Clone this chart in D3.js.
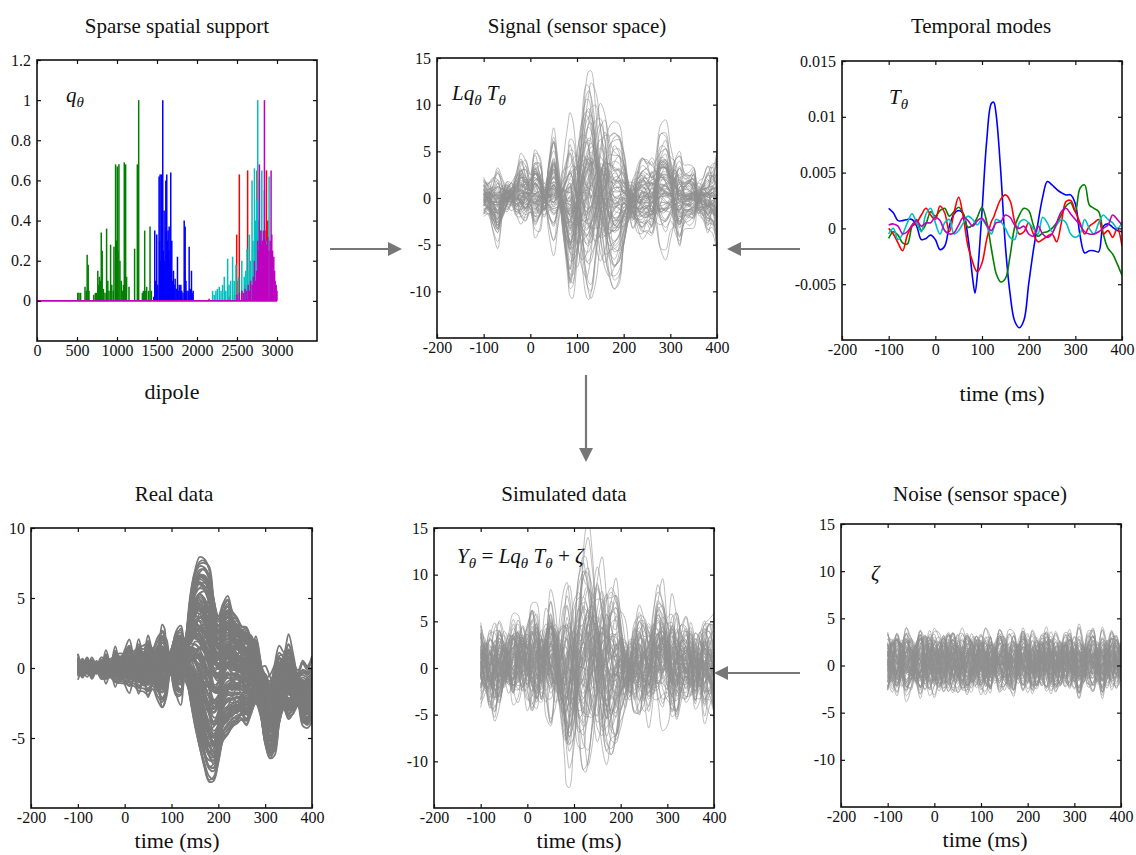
<!DOCTYPE html>
<html>
<head>
<meta charset="utf-8">
<script src="https://cdn.jsdelivr.net/npm/d3@7"></script>
<style>
  body { margin: 0; background: #fff; }
  svg text { font-family: "Liberation Serif", "Times New Roman", serif; fill: #111; }
</style>
</head>
<body>
<svg id="figure" width="1136" height="855"></svg>
<script>
// ---- data ----

// sample times (ms) shared by every time series
const timeGrid = [-100, -90, -80, -70, -60, -50, -40, -30, -20, -10, 0, 10, 20, 30, 40, 50, 60, 70, 80,
  85, 90, 100, 110, 120, 125, 130,
  140, 150, 160, 170, 180, 190, 200, 210, 220, 230, 240, 250, 260, 270, 280, 290, 300, 310, 320, 330, 340, 350, 360, 370, 380, 390, 400];

// temporal modes T_theta
const blueMode = [0.0018, 0.0014, 0.0007, 0.0007, 0.0008, 0.0008, 0.0002, -0.001, -0.0009, -0.0006, -0.001, -0.0019, -0.0016, 0.0002, 0.0013, 0.0016, 0.0013, -0.0008, -0.0045,
  -0.0058, -0.0042, 0.0015, 0.0078, 0.0112, 0.0113, 0.0103,
  0.0052, -0.0015, -0.0058, -0.0083, -0.0089, -0.0082, -0.005, -0.002, 0.0005, 0.0028, 0.0042, 0.0039, 0.0035, 0.0032, 0.003, 0.003, 0.0022, -0.0006, -0.0022, -0.002, -0.002, -0.0021, 0.0002, 0.0004, 0.0001, -0.0002, -0.0003];
const greenMode = [-0.0009, -0.0003, -0.0006, -0.0013, -0.0014, 0.0002, 0.0008, -0.0002, 0.0004, 0.0015, 0.0011, 0.0016, 0.0018, 0.0011, 0.0015, 0.0019, 0.0013, 0.0001, 0.0003,
  0.0006, 0.001, 0.0019, 0.0006, -0.0018, -0.003, -0.004,
  -0.0048, -0.0045, -0.0025, 0.0001, 0.0012, 0.0018, 0.0016, 0.0003, -0.0007, -0.0004, -0.0003, 0.0, 0.0005, 0.0012, 0.002, 0.0023, 0.0015, 0.0036, 0.0039, 0.0021, 0.0018, 0.0015, -0.0005, -0.0018, -0.0023, -0.0032, -0.0042];
const redMode = [0.0, -0.0005, -0.0013, -0.002, -0.0006, 0.0002, 0.0005, 0.0012, 0.0018, 0.0012, 0.0008, 0.002, 0.0014, -0.0003, 0.0014, 0.0028, 0.001, -0.0016, -0.003,
  -0.0036, -0.0039, -0.0031, -0.001, 0.0006, 0.001, 0.0016,
  0.0026, 0.003, 0.0025, 0.0006, -0.0005, -0.0003, 0.0005, -0.0005, -0.0012, -0.001, -0.0007, -0.0005, -0.0012, 0.0005, 0.0024, 0.0025, 0.0015, 0.0005, -0.0005, 0.0002, 0.0005, 0.0008, -0.0005, -0.0002, -0.0008, 0.0, -0.0016];
const cyanMode = [-0.0005, 0.0, -0.001, -0.0005, 0.0005, 0.0013, 0.0005, -0.0003, 0.0013, 0.0018, 0.0005, -0.0005, 0.0005, 0.0008, -0.0005, -0.0002, 0.0005, 0.0011, 0.0008,
  0.0005, 0.0003, 0.0008, 0.0002, -0.0005, 0.0, 0.0008,
  0.0006, 0.0, -0.0008, -0.001, 0.0005, 0.0008, 0.0005, 0.0, -0.0005, 0.001, 0.0005, -0.0003, 0.0003, 0.0008, 0.0005, -0.0005, -0.0008, -0.0005, 0.0008, 0.0, -0.0005, 0.0005, 0.0012, 0.0008, 0.0005, 0.0, 0.0005];
const magentaMode = [0.0003, 0.0004, 0.0002, -0.0005, -0.0003, 0.0003, 0.0007, 0.0002, 0.0005, 0.0005, 0.001, 0.0007, -0.0002, -0.0005, -0.0004, 0.0003, 0.001, 0.0007, 0.0002,
  0.0004, 0.0007, 0.0009, 0.0003, -0.0002, 0.0001, 0.0005,
  0.0006, 0.0012, 0.001, 0.0003, 0.0, 0.0002, -0.0005, -0.0007, 0.0002, -0.0005, -0.0008, -0.0005, 0.0005, 0.0015, 0.0018, 0.0013, 0.0008, 0.0003, -0.0003, -0.0005, -0.0005, -0.0003, 0.0, 0.0003, 0.0012, 0.0008, 0.0003];
const modes = [blueMode, greenMode, redMode, cyanMode, magentaMode];
const modeColors = ['#0000ff', '#007f00', '#ff0000', '#00bfbf', '#bf00bf'];

// sparse spatial support q_theta: [dipole, value]
const qGreen = [[510, 0.04], [525, 0.04], [545, 0.04], [600, 0.07], [615, 0.05], [627, 0.23], [640, 0.18], [650, 0.05], [710, 0.03], [730, 0.04], [745, 0.04], [760, 0.15], [770, 0.08], [780, 0.12], [795, 0.1], [803, 0.34], [815, 0.25], [830, 0.06], [850, 0.04], [870, 0.36], [885, 0.1], [900, 0.05], [920, 0.28], [935, 0.08], [953, 0.05], [962, 0.27], [982, 0.68], [992, 0.3], [1003, 0.67], [1012, 0.25], [1024, 0.68], [1037, 0.2], [1053, 0.1], [1065, 0.05], [1080, 0.08], [1091, 0.69], [1100, 0.3], [1108, 0.68], [1120, 0.12], [1150, 0.07], [1220, 0.26], [1254, 0.68], [1271, 1.0], [1317, 0.04], [1330, 0.05], [1346, 0.35], [1360, 0.05], [1371, 0.07], [1395, 0.05], [1413, 0.37], [1430, 0.05]];
const qBlue = [[1460, 0.02], [1472, 0.35], [1485, 0.1], [1497, 0.33], [1510, 0.08], [1526, 0.62], [1532, 0.3], [1539, 0.63], [1547, 0.2], [1556, 0.63], [1565, 0.2], [1572, 1.0], [1580, 0.25], [1589, 0.45], [1597, 0.2], [1610, 0.6], [1617, 0.35], [1622, 0.63], [1630, 0.3], [1639, 0.35], [1645, 0.25], [1652, 0.37], [1660, 0.2], [1672, 0.64], [1680, 0.15], [1685, 0.3], [1695, 0.1], [1706, 0.15], [1715, 0.08], [1727, 0.11], [1740, 0.06], [1756, 0.22], [1765, 0.05], [1777, 0.08], [1790, 0.07], [1798, 0.08], [1810, 0.05], [1825, 0.04], [1840, 0.4], [1846, 0.15], [1852, 0.37], [1862, 0.1], [1873, 0.05], [1890, 0.05], [1902, 0.27], [1915, 0.06], [1931, 0.15], [1940, 0.04], [1952, 0.05]];
const qRed = [[2150, 0.01], [2400, 0.02], [2470, 0.03], [2496, 0.33], [2515, 0.1], [2529, 0.63], [2560, 0.05], [2600, 0.08], [2633, 0.65], [2660, 0.1], [2700, 0.12], [2738, 0.38], [2750, 0.65], [2790, 0.3], [2820, 0.2], [2850, 0.35], [2868, 0.65], [2885, 0.4]];
const qCyan = [[2195, 0.05], [2215, 0.03], [2236, 0.05], [2255, 0.06], [2278, 0.07], [2300, 0.05], [2320, 0.08], [2341, 0.12], [2360, 0.05], [2383, 0.21], [2400, 0.08], [2420, 0.1], [2445, 0.22], [2465, 0.1], [2487, 0.18], [2520, 0.12], [2560, 0.2], [2590, 0.12], [2610, 0.15], [2625, 0.26], [2633, 0.15], [2654, 0.33], [2670, 0.2], [2688, 0.6], [2700, 0.3], [2718, 0.66], [2730, 0.4], [2745, 0.5], [2759, 1.0], [2770, 0.4], [2780, 0.6], [2795, 0.35], [2810, 0.65], [2825, 0.3], [2843, 0.55], [2860, 0.25], [2876, 0.3], [2901, 0.62], [2918, 0.2]];
const qMagenta = [[2500, 0.03], [2530, 0.04], [2560, 0.05], [2580, 0.04], [2600, 0.06], [2620, 0.05], [2640, 0.08], [2655, 0.05], [2670, 0.1], [2690, 0.08], [2705, 0.12], [2717, 0.2], [2730, 0.1], [2745, 0.15], [2760, 0.3], [2770, 0.25], [2780, 0.68], [2790, 0.3], [2800, 0.35], [2810, 0.28], [2820, 0.3], [2830, 0.35], [2843, 1.0], [2855, 0.3], [2870, 0.28], [2885, 0.32], [2900, 0.25], [2915, 0.3], [2926, 0.65], [2935, 0.33], [2945, 0.25], [2960, 0.22], [2970, 0.15], [2977, 0.1], [2990, 0.08], [3000, 0.05]];
const qSeries = [
  { spikes: qGreen, color: '#007f00' },
  { spikes: qBlue, color: '#0000ff' },
  { spikes: qRed, color: '#ff0000' },
  { spikes: qCyan, color: '#00bfbf' },
  { spikes: qMagenta, color: '#bf00bf' },
];
const dipoleRange = [0, 3000];

// sensor gains L q_theta for each mode [blue, green, red, cyan, magenta] (x1000)
const sensorGains = [
  [1.10, 0.3, 0.4, -0.2, 0.1], [1.00, -0.5, 0.8, 0.3, -0.4], [0.92, 0.2, -0.6, 0.5, 0.2], [0.85, 0.8, 1.2, -0.4, 0.6],
  [0.78, -0.2, 0.2, 0.1, -0.3], [0.70, 0.5, -1.0, -0.6, 0.4], [0.62, -0.8, 1.6, 0.2, 0.1], [0.55, 0.1, 0.5, 0.7, -0.5],
  [0.48, 0.6, -0.3, -0.2, 0.8], [0.42, -0.4, 2.2, 0.4, -0.2], [0.36, 0.9, 0.9, -0.8, 0.3], [0.30, -0.6, -1.4, 0.6, 0.5],
  [0.25, 0.3, 1.8, -0.3, -0.6], [0.20, -0.1, 0.6, 0.9, 0.2], [0.15, 0.7, -0.8, 0.2, -0.8], [0.10, -0.9, 1.3, -0.5, 0.6],
  [0.06, 0.4, 2.4, 0.3, 0.0], [0.02, -0.3, -0.5, -0.9, 0.4], [-0.03, 1.1, 0.8, 0.5, -0.3], [-0.08, -0.5, 1.5, 0.1, 0.9],
  [-0.12, 0.2, -1.1, 0.7, -0.1], [-0.18, -1.0, 0.3, -0.4, 0.5], [-0.22, 0.6, 2.0, 0.2, -0.7], [-0.28, -0.2, -0.2, -0.6, 0.3],
  [-0.33, 0.8, 1.0, 0.8, 0.1], [-0.38, -0.7, -0.9, 0.0, -0.4], [-0.44, 0.1, 1.4, -0.7, 0.7], [-0.50, 0.5, 0.1, 0.4, -0.2],
  [-0.56, -0.4, -1.6, 0.6, 0.2], [-0.62, 0.9, 0.7, -0.2, -0.5], [-0.68, -0.6, 1.1, 0.3, 0.4], [-0.75, 0.3, -0.4, -0.5, 0.0],
  [-0.82, -0.2, 0.9, 0.6, -0.3], [-0.88, 0.4, 0.2, -0.1, 0.5], [0.95, 0.0, -0.2, 0.0, -0.1], [0.88, -0.3, 0.6, -0.6, 0.3],
  [0.66, 0.7, 0.0, 0.3, -0.2], [0.52, -0.9, -0.7, -0.1, 0.6], [0.33, 0.2, 1.1, 1.0, -0.4], [0.18, -0.5, -0.2, -0.3, 1.0],
  [-0.15, 0.3, 0.4, -1.0, -0.6], [-0.40, -0.8, 1.9, 0.5, 0.2], [-0.58, 1.0, -0.6, -0.3, 0.8], [0.74, 0.4, 1.5, 0.6, 0.0],
  [0.08, 0.0, 0.2, 0.2, 0.1], [-0.05, -0.2, 0.0, -0.2, -0.1], [0.40, 0.1, -0.1, 0.4, -0.2], [-0.25, -0.1, 0.5, 0.1, 0.3],
  [0.12, 0.2, 0.3, 0.1, -0.2], [-0.10, -0.3, 0.6, -0.2, 0.3], [0.22, 0.4, -0.4, 0.3, 0.1], [-0.20, 0.1, 0.9, 0.4, -0.3],
  [0.05, -0.5, 0.2, -0.4, 0.4], [0.28, 0.3, 0.7, 0.0, 0.2], [-0.30, -0.2, -0.3, 0.2, -0.2], [0.16, -0.1, 1.0, -0.1, 0.0],
  [-0.06, 0.6, -0.6, -0.3, 0.5], [0.35, -0.4, 0.3, 0.5, -0.4], [-0.35, 0.4, 0.5, -0.5, 0.1], [0.00, 0.2, 1.2, 0.2, 0.3],
  [0.24, -0.6, -0.2, -0.2, -0.3], [-0.14, -0.4, 0.8, 0.6, 0.0], [0.45, 0.5, 0.1, -0.1, 0.4], [-0.45, 0.0, 0.4, 0.3, -0.5],
  [0.10, 0.7, 0.5, -0.6, -0.1], [-0.24, -0.7, -0.4, 0.0, 0.6], [0.30, 0.0, 1.4, 0.3, -0.2], [-0.02, 0.3, 0.0, 0.5, 0.2],
  [0.58, -0.2, 0.4, -0.3, 0.1], [-0.52, 0.2, 0.7, 0.1, -0.1], [0.14, -0.3, -0.9, 0.4, 0.3], [-0.32, 0.5, 1.0, -0.2, 0.4],
  [0.04, 0.1, 0.3, -0.1, -0.4], [0.20, -0.2, 0.5, 0.2, 0.0], [-0.10, 0.0, -0.1, 0.3, 0.2], [0.38, 0.3, 0.9, -0.4, -0.2],
  [-0.42, -0.3, 0.2, 0.0, 0.1], [0.26, 0.6, -0.5, 0.1, 0.3], [-0.18, 0.2, 1.1, -0.3, -0.3], [0.50, -0.1, 0.2, 0.1, 0.2],
];
const gainScale = 1000;

// sensor noise zeta: four noise components and per-sensor weights [a, b, c, d, offset]
const noiseA = [0.8, -0.2, -0.9, 0.1, 0.9, 0.3, -0.6, -1.0, 0.2, 0.9, 0.4, -0.5, -0.9, 0.0, 0.8, 0.6, -0.3, -1.0, -0.4, 0.1, 0.5, 0.9, 0.1, -0.8, -0.5, -0.2, 0.7, 0.8, -0.3, -0.9, 0.0, 0.9, 0.5, -0.6, -0.8, 0.3, 1.0, 0.2, -0.7, -0.6, 0.4, 0.9, 0.0, -0.9, -0.3, 0.6, 0.8, -0.2, -1.0, 0.1, 0.8, 0.4, -0.5];
const noiseB = [-0.3, 0.6, 0.9, 0.2, -0.7, -0.8, 0.1, 0.9, 0.6, -0.4, -1.0, -0.3, 0.7, 0.8, -0.1, -0.9, -0.5, 0.4, 1.0, 0.7, 0.3, -0.6, -0.9, 0.0, 0.4, 0.7, 0.5, -0.4, -0.9, -0.2, 0.8, 0.6, -0.3, -0.8, 0.1, 0.9, 0.3, -0.7, -0.7, 0.2, 0.9, 0.4, -0.5, -0.9, 0.0, 0.8, 0.5, -0.4, -0.8, 0.2, 1.0, 0.3, -0.6];
const noiseC = [0.5, 0.9, 0.3, -0.5, -0.9, -0.2, 0.6, 0.4, -0.6, -0.8, 0.2, 0.9, 0.5, -0.6, -0.9, -0.1, 0.7, 0.9, 0.2, -0.3, -0.7, -0.5, 0.5, 0.9, 0.6, 0.2, -0.7, -0.6, 0.3, 0.9, 0.4, -0.5, -0.9, -0.1, 0.7, 0.6, -0.4, -0.9, 0.0, 0.8, 0.5, -0.5, -0.8, 0.2, 0.9, 0.3, -0.6, -0.7, 0.3, 0.9, 0.1, -0.7, -0.4];
const noiseD = [-0.9, -0.4, 0.5, 0.8, 0.0, -0.7, -0.3, 0.6, 0.9, 0.1, -0.8, -0.6, 0.3, 0.9, 0.5, -0.5, -0.9, -0.1, 0.6, 0.8, 0.7, -0.2, -0.8, -0.5, 0.1, 0.5, 0.9, 0.2, -0.7, -0.6, 0.4, 0.8, -0.1, -0.9, -0.4, 0.5, 0.8, 0.0, -0.8, -0.3, 0.6, 0.7, -0.3, -0.9, -0.2, 0.7, 0.9, 0.1, -0.7, -0.5, 0.4, 0.8, 0.2];
const noiseWeights = [
  [1.2, -0.5, 0.8, 0.3, 0.4], [-0.6, 1.4, -0.3, 0.9, 0.2], [0.9, 0.7, -1.1, -0.4, 0.6], [-1.3, -0.2, 0.5, 1.0, 0.0],
  [0.4, -1.2, 0.9, -0.7, 0.8], [1.5, 0.3, 0.2, -0.9, 0.3], [-0.8, 0.9, 1.2, 0.4, -0.2], [0.2, -0.6, -1.4, 0.8, 0.5],
  [1.0, 1.1, 0.4, 0.6, 0.1], [-0.4, -1.0, 0.7, -1.2, 0.7], [0.7, 0.2, -0.6, 1.4, 0.4], [-1.1, 0.6, -0.9, -0.3, 0.2],
  [0.3, 1.5, 0.1, -0.5, 0.6], [1.3, -0.8, -0.2, 0.2, -0.1], [-0.5, 0.3, 1.3, 0.9, 0.5], [0.8, -1.3, -0.5, -0.6, 0.3],
  [-1.4, -0.4, 0.2, 0.7, 0.9], [0.5, 0.8, -0.8, -1.1, 0.0], [-0.2, -0.7, 1.0, 1.2, 0.4], [1.1, 0.5, 0.9, -0.2, 0.7],
  [-0.9, 1.2, -0.4, 0.3, -0.3], [0.6, -0.3, -1.2, -0.8, 0.5], [-0.3, -1.1, 0.6, 0.5, 0.2], [1.4, 0.1, -0.3, 1.0, 0.6],
  [-0.7, 0.6, 0.8, -1.3, 0.1], [0.1, 1.3, -1.0, 0.2, 0.8], [0.9, -0.9, 0.3, -0.4, -0.2], [-1.2, 0.2, -0.7, 0.8, 0.5],
  [0.4, 0.4, 1.4, -0.1, 0.3], [-0.6, -1.4, -0.1, -0.6, 0.6], [1.2, 0.8, -0.5, 0.5, 0.0], [-0.1, -0.5, 0.9, 1.3, 0.4],
  [0.7, 1.0, 0.6, -0.9, 0.7], [-1.0, -0.1, -1.3, 0.1, 0.2], [0.3, -1.2, 0.2, 0.9, 0.5], [1.0, 0.4, -0.9, -1.2, 0.3],
  [-0.5, 0.9, 1.1, 0.6, -0.1], [0.8, -0.4, -0.4, 0.3, 0.9], [-1.3, 0.7, 0.4, -0.8, 0.4], [0.2, -0.8, -1.1, 1.1, 0.1],
  [1.1, 1.2, 0.7, 0.0, 0.5], [-0.8, -0.6, 0.5, -1.0, 0.6], [0.6, 0.1, -0.6, 1.2, 0.2], [-0.4, 1.4, 0.3, -0.3, 0.4],
  [0.9, -1.0, 1.2, 0.4, 0.3], [-1.1, 0.3, -0.8, 0.7, 0.7], [0.5, 0.6, 0.0, -1.4, 0.0], [-0.2, -0.9, -1.0, 0.2, 0.5],
  [0.6, -0.9, 0.3, 0.8, 0.4], [-1.0, 0.4, 0.9, -0.5, 0.2], [0.3, 1.1, -0.7, 0.6, 0.5], [1.2, -0.2, 0.5, -1.0, 0.3],
  [-0.7, -0.8, -0.4, 0.9, 0.6], [0.9, 0.6, 1.0, 0.3, -0.1], [-0.2, 1.3, -0.9, -0.7, 0.4], [1.4, -0.6, 0.1, 0.4, 0.2],
  [-1.2, 0.0, 0.8, 1.1, 0.5], [0.4, -1.1, -1.2, -0.2, 0.7], [0.8, 0.9, -0.2, -1.3, 0.1], [-0.5, -0.3, 1.4, 0.5, 0.4],
  [1.0, 0.2, -1.0, 0.9, 0.3], [-0.9, 1.0, 0.2, -0.4, 0.8], [0.1, -1.4, 0.6, 0.0, 0.2], [1.3, 0.7, 0.4, 0.7, 0.5],
  [-0.4, -0.5, -1.3, -1.0, 0.6], [0.7, 1.2, 0.9, -0.6, 0.0], [-1.1, -0.9, -0.1, 1.3, 0.4], [0.2, 0.3, -0.5, -0.9, 0.9],
  [1.1, -1.2, 0.7, 0.2, 0.3], [-0.6, 0.8, -1.1, 0.6, 0.5], [0.5, -0.1, 1.2, -1.2, 0.1], [-1.4, 0.5, 0.0, 0.3, 0.6],
  [0.9, -0.7, -0.8, 1.0, 0.4], [-0.3, 1.4, 0.5, -0.1, 0.2], [1.2, 0.0, -1.4, -0.5, 0.5], [-0.8, -1.3, 0.8, 0.4, 0.3],
  [0.6, 0.9, 0.2, 1.2, 0.7], [-1.0, 0.1, -0.6, -1.1, 0.2], [0.0, -0.6, 1.1, 0.8, 0.6], [1.3, 0.5, -0.3, -0.7, 0.4],
];
const noiseAmplitude = 1.5;

// real data: four response components and per-sensor weights [p, n, e, b]
const realP = [0, 0, 0, 0, 0, 0, 0, 0, 0, 0, 0, 0, 0, 0, 0, 0, 0, 0, 0,
  0, 0, 0, 0.0, 0.04, 0.1, 0.22,
  0.62, 0.86, 0.98, 1.0, 0.95, 0.66, 0.48, 0.55, 0.6, 0.5, 0.42, 0.38, 0.35, 0.3, 0.2, 0.05, -0.1, -0.2, -0.15, 0.0, 0.1, 0.1, 0.0, -0.1, -0.15, -0.1, -0.15];
const realN = [0, 0, 0, 0, 0, 0, 0, 0, 0, 0, 0, 0, 0, 0, 0, 0, 0, 0, 0,
  0, 0.05, 0.15, 0.2, 0.15, 0.1, 0.0,
  -0.2, -0.42, -0.62, -0.8, -0.95, -1.0, -0.85, -0.62, -0.55, -0.5, -0.47, -0.45, -0.5, -0.4, -0.3, -0.45, -0.72, -0.85, -0.8, -0.5, -0.38, -0.45, -0.42, -0.35, -0.5, -0.55, -0.45];
const realE = [0.1, 0.2, 0.1, 0.2, 0.1, 0.2, 0.3, 0.2, 0.4, 0.3, 0.4, 0.5, 0.4, 0.6, 0.5, 0.7, 0.5, 0.7, 1.0,
  0.9, 0.6, -0.2, -0.8, -0.9, -0.6, -0.2,
  0.2, 0.2, 0.1, 0, 0, 0, 0, 0, 0, 0, 0, 0, 0, 0, 0, 0, 0, 0, 0, 0, 0, 0, 0, 0, 0, 0, 0];
const realB = [0.3, -0.1, 0.2, -0.2, 0.1, -0.2, 0.2, -0.1, 0.2, -0.2, 0.1, 0.3, -0.1, 0.2, -0.2, 0.2, 0.0, -0.2, 0.2,
  0.2, -0.2, 0.3, 0.0, -0.2, 0.0, 0.2,
  0.0, -0.1, 0.1, 0.0, -0.2, 0.0, 0.2, 0.4, 0.5, 0.2, 0.4, 0.1, 0.3, -0.1, 0.4, 0.1, -0.3, -0.1, 0.3, 0.5, 0.2, 0.6, 0.3, 0.0, 0.4, 0.2, 0.5];
const realWeights = [
  [8.2, 0.5, 1.0, 1.0], [7.8, 1.0, -0.5, 0.5], [7.5, 0.0, 1.5, -0.8], [7.2, 2.0, 0.8, 1.5], [7.0, 0.5, -1.2, 0.3],
  [6.8, 1.5, 0.5, -1.0], [6.5, 0.8, 2.0, 0.8], [6.2, 2.5, -0.8, 1.2], [6.0, 0.2, 0.3, -0.5], [5.8, 1.2, 1.8, 2.0],
  [5.5, 3.0, -1.5, 0.0], [5.2, 0.6, 0.9, -1.5], [5.0, 2.2, -0.3, 1.0], [4.8, 1.0, 2.2, 0.4], [4.5, 3.5, 0.4, -0.6],
  [4.2, 0.4, -1.8, 1.8], [4.0, 2.8, 1.2, 0.2], [3.8, 1.5, -0.6, -1.2], [3.5, 4.0, 0.7, 0.9], [3.2, 0.8, 1.6, -0.3],
  [3.0, 3.2, -1.0, 1.4], [2.8, 2.0, 0.2, -0.9], [2.5, 4.5, 1.4, 0.6], [2.2, 1.2, -1.4, 1.1], [2.0, 3.8, 0.6, -1.4],
  [1.8, 5.0, -0.2, 0.3], [1.5, 2.5, 1.9, 1.6], [1.2, 5.5, -0.9, -0.2], [1.0, 3.0, 0.1, 0.7], [0.8, 6.0, 1.1, -0.7],
  [0.5, 4.2, -1.6, 1.3], [0.3, 6.5, 0.5, 0.1], [0.0, 5.0, 1.3, -1.1], [-0.2, 7.0, -0.4, 0.8], [-0.5, 5.8, 0.9, 0.2],
  [-0.8, 7.4, -1.1, -0.4], [-1.0, 6.2, 2.1, 1.0], [-1.2, 4.6, -0.7, -0.8], [-1.5, 6.8, 0.3, 0.5], [-1.8, 5.4, 1.5, -1.3],
  [7.6, 1.8, 0.0, 0.0], [6.6, 0.0, -0.2, 1.7], [5.6, 1.6, 1.1, -0.2], [4.6, 2.6, -0.9, 0.5], [3.6, 0.2, 0.0, 2.4],
  [2.6, 3.4, 1.0, -0.4], [1.6, 4.0, -0.5, 1.9], [0.6, 2.0, 0.4, -1.7], [8.0, 3.0, 0.6, 0.1], [6.9, 3.8, -0.7, -0.9],
  [5.4, 4.8, 1.7, 0.6], [4.3, 5.6, -1.3, 1.0], [3.3, 6.2, 0.8, -0.1], [2.3, 6.8, -0.2, 0.4], [7.3, 4.2, 2.4, 1.3],
  [6.1, 5.2, -2.0, -1.0], [2.0, 0.5, -3.0, 0.9], [1.0, 1.0, 2.6, 2.5], [5.0, 0.0, 0.4, 3.2], [3.0, 1.0, -2.4, -2.0],
  [7.9, 0.3, -0.4, 0.6], [7.4, 1.2, 1.2, -0.3], [7.1, 0.8, -1.6, 1.1], [6.7, 2.2, 0.3, 0.2], [6.4, 0.4, 1.3, -1.2],
  [6.0, 1.8, -0.2, 0.9], [5.7, 2.8, 0.7, -0.6], [5.3, 1.1, -1.1, 0.4], [4.9, 3.6, 1.0, 1.1], [4.4, 1.9, -0.4, -1.0],
  [4.1, 4.4, 0.2, 0.3], [3.7, 2.4, 1.5, 1.5], [3.4, 5.0, -1.2, -0.5], [3.1, 1.4, 0.9, 0.0], [2.7, 5.8, -0.6, 0.8],
  [2.4, 2.9, 2.0, -0.8], [2.1, 6.2, 0.3, 0.4], [1.7, 3.6, -1.9, 1.2], [1.4, 6.6, 1.2, -0.3], [1.1, 4.8, -0.3, -1.5],
  [0.7, 7.1, 0.7, 0.6], [0.4, 5.5, -1.0, 0.0], [0.1, 6.9, 1.6, -0.9], [-0.3, 4.0, -0.1, 1.4], [-0.6, 6.0, 0.4, -0.2],
  [-0.9, 5.2, -1.4, 0.9], [-1.3, 7.2, 0.9, 0.2], [-1.6, 3.8, 0.0, -0.6], [8.1, 2.0, -0.9, 0.7], [7.7, 2.6, 0.9, -0.5],
  [6.3, 3.2, -0.3, 1.6], [5.9, 4.0, 1.4, -1.1], [5.1, 5.0, -0.8, 0.2], [4.7, 0.8, 0.5, 2.0], [3.9, 0.0, -0.7, -1.8],
  [2.9, 0.6, 1.8, 1.0], [1.9, 1.4, -2.2, -0.4], [0.9, 0.2, 0.6, 1.6], [0.2, 1.8, -0.5, -0.8], [-0.4, 2.6, 1.1, 0.4],
  [8.3, 1.4, 0.2, -0.2], [7.0, 2.9, -0.4, 0.6], [6.5, 3.6, 0.9, -0.4], [6.2, 0.9, -0.9, -0.9], [5.8, 2.5, 0.4, 1.3],
  [5.5, 3.9, -0.6, 0.1], [5.2, 1.8, 1.5, -0.7], [4.9, 4.6, -0.1, 0.5], [4.5, 2.2, 0.8, -1.3], [4.2, 5.3, -0.8, 0.9],
  [3.9, 3.1, 1.2, 0.2], [3.6, 5.9, 0.1, -0.5], [3.2, 2.6, -1.5, 1.2], [2.9, 6.4, 0.6, 0.0], [2.5, 3.9, -0.3, -1.1],
  [2.2, 7.0, 1.0, 0.6], [1.8, 4.4, -1.2, 0.3], [1.5, 7.3, 0.2, -0.6], [1.1, 5.6, 0.9, 1.1], [0.8, 6.5, -0.7, -0.3],
  [0.4, 3.4, 1.4, 0.7], [0.0, 6.0, -0.2, -1.0], [-0.4, 7.1, 0.5, 0.3], [-0.8, 4.8, -0.9, 1.5], [-1.1, 6.4, 1.3, -0.5],
  [7.4, 0.4, -2.2, 0.4], [6.8, 0.6, 2.6, -0.2], [4.0, 1.2, -2.6, 0.8], [3.0, 2.2, 2.8, -1.0], [1.2, 2.4, -1.8, 0.2],
];

// tick labels
const timeTicks = [-200, -100, 0, 100, 200, 300, 400];
const dipoleTicks = [0, 500, 1000, 1500, 2000, 2500, 3000];
const qTicks = [0, 0.2, 0.4, 0.6, 0.8, 1, 1.2];
const modeTicks = [-0.005, 0, 0.005, 0.01, 0.015];
const sensorTicks = [-10, -5, 0, 5, 10, 15];
const realTicks = [-5, 0, 5, 10];

// ---- derived traces (mixing the read components) ----
const nT = timeGrid.length;
const mix = (bases, w, offset = 0, scale = 1) =>
  d3.range(nT).map((j) => bases.reduce((s, b, k) => s + w[k] * scale * (b[j] || 0), offset));

const signalTraces = sensorGains.map((g) => mix(modes, g, 0, gainScale));
const noiseTraces = noiseWeights.map((w) => mix([noiseA, noiseB, noiseC, noiseD], w, w[4], noiseAmplitude));
const simulatedTraces = signalTraces.map((s, i) => s.map((v, j) => v + noiseTraces[i][j]));
const realTraces = realWeights.map((w) => mix([realP, realN, realE, realB], w));

// ---- drawing ----
const svg = d3.select('#figure');
const FONT = '"Liberation Serif", "Times New Roman", serif';

function makePanel(id, box, xDomain, yDomain) {
  const g = svg.append('g').attr('transform', `translate(${box.left},${box.top})`);
  const x = d3.scaleLinear().domain(xDomain).range([0, box.w]);
  const y = d3.scaleLinear().domain(yDomain).range([box.h, 0]);
  svg.append('clipPath').attr('id', 'clip-' + id)
    .append('rect').attr('width', box.w).attr('height', box.h);
  const plot = g.append('g').attr('clip-path', `url(#clip-${id})`);
  return { g, plot, x, y, box };
}

function drawAxes(p, xTicks, yTicks) {
  const { g, x, y, box } = p;
  const style = (sel) => {
    sel.attr('font-family', null).attr('font-size', null);
    sel.select('.domain').remove();
    sel.selectAll('line').attr('stroke', '#111').attr('stroke-width', 1.2);
    sel.selectAll('text')
      .style('font-family', FONT).style('font-size', '16px').style('fill', '#111');
  };
  g.append('g').attr('transform', `translate(0,${box.h})`)
    .call(d3.axisBottom(x).tickValues(xTicks).tickFormat((d) => String(d)).tickSizeInner(-4).tickSizeOuter(0).tickPadding(4))
    .call(style);
  g.append('g')
    .call(d3.axisTop(x).tickValues(xTicks).tickFormat('').tickSizeInner(-4).tickSizeOuter(0))
    .call(style);
  g.append('g')
    .call(d3.axisLeft(y).tickValues(yTicks).tickFormat((d) => String(d)).tickSizeInner(-4).tickSizeOuter(0).tickPadding(6))
    .call(style);
  g.append('g').attr('transform', `translate(${box.w},0)`)
    .call(d3.axisRight(y).tickValues(yTicks).tickFormat('').tickSizeInner(-4).tickSizeOuter(0))
    .call(style);
  g.append('rect').attr('width', box.w).attr('height', box.h)
    .attr('fill', 'none').attr('stroke', '#111').attr('stroke-width', 1.6);
}

function drawTraces(p, traces, color, width) {
  const line = d3.line()
    .x((d, j) => p.x(timeGrid[j]))
    .y((d) => p.y(d))
    .curve(d3.curveCatmullRom.alpha(0.5));
  p.plot.selectAll(null).data(traces).enter().append('path')
    .attr('d', line)
    .attr('fill', 'none')
    .attr('stroke', color)
    .attr('stroke-width', width);
}

function text(x, y, str, size = 21) {
  svg.append('text').attr('x', x).attr('y', y).attr('text-anchor', 'middle')
    .style('font-family', FONT).style('font-size', size + 'px').text(str);
}

// italic maths label, parts: [string, isSubscript]
function mathLabel(x, y, parts) {
  const t = svg.append('text').attr('x', x).attr('y', y)
    .style('font-family', FONT).style('font-size', '21px').style('font-style', 'italic');
  let sub = false;
  parts.forEach(([s, isSub]) => {
    const span = t.append('tspan').text(s);
    if (isSub && !sub) span.attr('dy', 5).style('font-size', '15px');
    else if (isSub) span.style('font-size', '15px');
    else if (sub) span.attr('dy', -5);
    sub = isSub;
  });
}

function arrow(x1, y1, x2, y2) {
  const color = '#777';
  const ang = Math.atan2(y2 - y1, x2 - x1);
  const len = 14, half = 7;
  const bx = x2 - len * Math.cos(ang), by = y2 - len * Math.sin(ang);
  svg.append('line').attr('x1', x1).attr('y1', y1).attr('x2', bx).attr('y2', by)
    .attr('stroke', color).attr('stroke-width', 2.2);
  const px = -Math.sin(ang) * half, py = Math.cos(ang) * half;
  svg.append('path')
    .attr('d', `M${x2},${y2}L${bx + px},${by + py}L${bx - px},${by - py}Z`)
    .attr('fill', color);
}

// panel 1: sparse spatial support
const pQ = makePanel('q', { left: 37, top: 60, w: 280, h: 281 }, [0, 3500], [-0.2, 1.2]);
qSeries.forEach((s) => {
  pQ.plot.append('g').selectAll('line').data(s.spikes).enter().append('line')
    .attr('x1', (d) => pQ.x(d[0])).attr('x2', (d) => pQ.x(d[0]))
    .attr('y1', pQ.y(0)).attr('y2', (d) => pQ.y(d[1]))
    .attr('stroke', s.color).attr('stroke-width', 1.5);
});
pQ.plot.append('line')
  .attr('x1', pQ.x(dipoleRange[0])).attr('x2', pQ.x(dipoleRange[1]))
  .attr('y1', pQ.y(0)).attr('y2', pQ.y(0))
  .attr('stroke', '#bf00bf').attr('stroke-width', 1.6);
drawAxes(pQ, dipoleTicks, qTicks);

// panel 2: signal in sensor space
const pS = makePanel('sig', { left: 437, top: 58, w: 280, h: 280 }, [-200, 400], [-15, 15]);
drawTraces(pS, signalTraces, '#8f8f8f', 0.6);
drawAxes(pS, timeTicks, sensorTicks);

// panel 3: temporal modes
const pT = makePanel('modes', { left: 842, top: 61, w: 280, h: 279 }, [-200, 400], [-0.01, 0.015]);
modes.forEach((m, k) => drawTraces(pT, [m], modeColors[k], 1.6));
drawAxes(pT, timeTicks, modeTicks);

// panel 4: real data
const pR = makePanel('real', { left: 31, top: 528, w: 281, h: 280 }, [-200, 400], [-10, 10]);
drawTraces(pR, realTraces, '#7a7a7a', 1.8);
drawAxes(pR, timeTicks, realTicks);

// panel 5: simulated data
const pY = makePanel('sim', { left: 434, top: 528, w: 280, h: 280 }, [-200, 400], [-15, 15]);
drawTraces(pY, simulatedTraces, '#8f8f8f', 0.6);
drawAxes(pY, timeTicks, sensorTicks);

// panel 6: noise
const pN = makePanel('noise', { left: 841, top: 524, w: 280, h: 283 }, [-200, 400], [-15, 15]);
drawTraces(pN, noiseTraces, '#8f8f8f', 0.6);
drawAxes(pN, timeTicks, sensorTicks);

// titles and axis labels
text(177, 33, 'Sparse spatial support');
text(577, 33, 'Signal (sensor space)');
text(981, 33, 'Temporal modes');
text(174, 501, 'Real data');
text(564, 501, 'Simulated data');
text(980, 501, 'Noise (sensor space)');
text(172, 399, 'dipole', 22);
text(1002, 401, 'time (ms)', 22);
text(177, 848, 'time (ms)', 22);
text(579, 848, 'time (ms)', 22);
text(985, 847, 'time (ms)', 22);

// in-panel maths labels
mathLabel(66, 102, [['q', false], ['θ', true]]);
mathLabel(452, 100, [['Lq', false], ['θ', true], [' T', false], ['θ', true]]);
mathLabel(889, 104, [['T', false], ['θ', true]]);
mathLabel(457, 563, [['Y', false], ['θ', true], ['\u2009=\u2009Lq', false], ['θ', true], [' T', false], ['θ', true], ['\u2009+\u2009ζ', false]]);
mathLabel(871, 580, [['ζ', false]]);

// flow arrows
arrow(330, 249, 402, 249);
arrow(800, 249, 727, 249);
arrow(586, 375, 586, 462);
arrow(800, 673, 714, 673);
</script>
</body>
</html>
